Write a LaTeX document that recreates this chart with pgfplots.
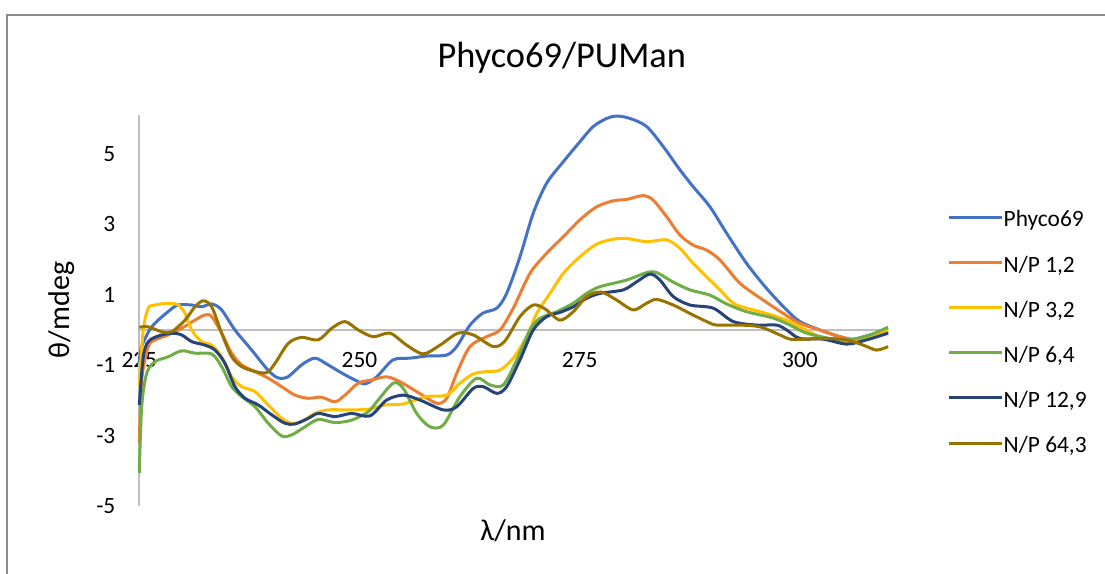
\documentclass[border=0pt]{standalone}
\usepackage{fontspec}
\setmainfont{Carlito}
\usepackage{pgfplots}
\pgfplotsset{compat=1.18}
\definecolor{cBlue}{HTML}{4472C4}
\definecolor{cOrange}{HTML}{ED7D31}
\definecolor{cYellow}{HTML}{FFC000}
\definecolor{cGreen}{HTML}{70AD47}
\definecolor{cDark}{HTML}{264478}
\definecolor{cBrown}{HTML}{997300}
\definecolor{cAxis}{HTML}{BFBFBF}
\definecolor{cFrame}{HTML}{8C8C8C}
\begin{document}
\begin{tikzpicture}
\path[use as bounding box] (0,0) rectangle (1105bp,574bp);
\draw[cFrame, line width=1.6bp] (7bp,0bp) -- (7bp,559bp) -- (1105bp,559bp);
\begin{axis}[
  at={(139.3bp,68bp)}, anchor=south west,
  scale only axis, width=748.8bp, height=390.7bp,
  xmin=225, xmax=310, ymin=-5, ymax=6.1,
  axis line style={draw=none},
  xtick={225,250,275,300}, xticklabels={225,250,275,300},
  ytick={-5,-3,-1,1,3,5}, yticklabels={-5,-3,-1,1,3,5},
  major tick length=0pt, tick style={draw=none},
  xticklabel style={anchor=base, yshift=138bp, font=\fontsize{23.4bp}{28bp}\selectfont},
  yticklabel style={anchor=east, inner sep=0pt, xshift=-23.8bp, font=\fontsize{23.4bp}{28bp}\selectfont},
  clip=false,
  every axis plot/.append style={line width=3bp, smooth, tension=0.5, no markers},
  legend cell align=left,
  legend style={at={(axis description cs:1.0787,0.7781)}, anchor=north west,
    draw=none, fill=none, inner sep=0pt, outer sep=0pt, row sep=0pt,
    font=\fontsize{23.4bp}{28bp}\selectfont,
    nodes={inner sep=0pt, outer sep=0pt, text height=25bp, text depth=20.1bp},
    /tikz/every even column/.append style={column sep=5.3bp}},
  legend image code/.code={\draw[#1, line width=3bp] (0bp,7bp) -- (53.7bp,7bp);},
]
\draw[cAxis, line width=1.8bp] (axis cs:225,-5) -- (axis cs:225,6.1);
\draw[cAxis, line width=1.8bp] (axis cs:225,0) -- (axis cs:310,0);

\addplot[cBlue] coordinates {
(225.0,-0.91) (225.27,-0.47) (226.41,0.09) (228.26,0.52) (229.39,0.71) (230.95,0.71)
(232.08,0.66) (233.22,0.74) (234.35,0.57) (235.86,0.00) (237.76,-0.57) (239.61,-1.14)
(240.74,-1.36) (241.88,-1.33) (243.43,-0.99) (244.94,-0.80) (246.42,-0.99) (247.97,-1.22)
(249.48,-1.42) (250.62,-1.53) (251.95,-1.33) (253.80,-0.85) (255.73,-0.80) (257.62,-0.74)
(259.89,-0.71) (261.03,-0.47) (262.54,0.14) (264.01,0.48) (265.57,0.62) (266.70,1.04)
(268.21,2.08) (269.72,3.32) (271.24,4.17) (273.13,4.78) (275.02,5.35) (276.53,5.78)
(278.05,6.01) (279.19,6.08) (280.70,6.01) (282.59,5.78) (284.48,5.21) (286.37,4.55)
(287.88,4.07) (289.78,3.50) (291.67,2.75) (293.94,1.89) (296.21,1.18) (298.48,0.57)
(299.99,0.24) (302.26,0.00) (304.53,-0.19) (306.04,-0.26) (308.31,-0.12) (310.0,-0.05)
};
\addlegendentry{Phyco69}
\addplot[cOrange] coordinates {
(225.0,-3.21) (225.27,-1.42) (226.02,-0.47) (226.78,-0.28) (228.29,-0.14) (229.81,0.05)
(231.32,0.28) (232.46,0.43) (233.22,0.38) (234.35,-0.09) (235.49,-0.66) (236.62,-0.99)
(238.13,-1.18) (239.64,-1.37) (241.16,-1.61) (242.67,-1.85) (244.18,-1.94) (245.70,-1.91)
(247.21,-2.04) (248.35,-1.85) (249.86,-1.51) (251.38,-1.42) (253.08,-1.33) (254.59,-1.47)
(256.49,-1.75) (258.76,-2.08) (259.89,-1.94) (261.03,-1.23) (262.54,-0.47) (264.43,-0.19)
(265.94,0.00) (267.45,0.62) (269.35,1.61) (271.24,2.18) (273.13,2.65) (275.02,3.13)
(276.92,3.50) (278.80,3.67) (280.32,3.71) (282.21,3.82) (283.34,3.69) (284.86,3.22)
(286.37,2.70) (287.88,2.41) (289.40,2.27) (290.91,1.99) (293.18,1.33) (295.83,0.85)
(298.10,0.47) (299.99,0.19) (302.26,0.00) (304.53,-0.19) (306.80,-0.28) (310.0,-0.05)
};
\addlegendentry{N/P 1,2}
\addplot[cYellow] coordinates {
(225.0,-1.56) (225.45,0.00) (226.02,0.62) (226.78,0.71) (228.29,0.76) (229.43,0.71)
(230.19,0.47) (230.95,0.00) (232.08,-0.33) (233.22,-0.43) (234.35,-0.76) (235.49,-1.33)
(236.62,-1.61) (238.13,-1.75) (239.64,-2.13) (241.16,-2.51) (242.30,-2.65) (243.43,-2.60)
(244.94,-2.37) (246.45,-2.27) (248.72,-2.27) (251.0,-2.25) (252.89,-2.13) (254.97,-2.10)
(257.62,-1.89) (259.89,-1.85) (261.40,-1.51) (262.91,-1.25) (264.43,-1.18) (265.94,-1.14)
(267.45,-0.80) (268.97,-0.19) (270.11,0.47) (271.62,1.04) (273.13,1.61) (275.02,2.08)
(276.92,2.44) (278.80,2.58) (280.32,2.60) (282.59,2.51) (284.86,2.56) (286.37,2.32)
(287.88,1.89) (289.40,1.51) (290.91,1.14) (292.42,0.76) (293.94,0.62) (296.21,0.47)
(298.48,0.28) (299.99,0.09) (302.26,-0.19) (304.53,-0.33) (306.80,-0.28) (310.0,0.00)
};
\addlegendentry{N/P 3,2}
\addplot[cGreen] coordinates {
(225.0,-4.06) (225.27,-2.18) (225.84,-1.23) (226.78,-0.90) (228.29,-0.76) (229.81,-0.59)
(231.32,-0.66) (233.22,-0.68) (234.35,-1.04) (235.49,-1.61) (236.62,-1.89) (238.13,-2.18)
(239.64,-2.65) (241.16,-3.01) (242.30,-2.98) (243.81,-2.75) (245.32,-2.54) (247.21,-2.63)
(249.11,-2.56) (251.0,-2.32) (251.95,-2.04) (253.83,-1.51) (254.97,-1.66) (256.49,-2.37)
(258.0,-2.75) (259.51,-2.70) (261.40,-1.89) (263.30,-1.37) (264.81,-1.56) (266.32,-1.56)
(267.84,-0.85) (269.35,0.00) (270.48,0.33) (272.38,0.52) (274.26,0.76) (275.78,1.04)
(277.29,1.23) (280.32,1.42) (282.59,1.63) (283.73,1.63) (285.61,1.36) (287.51,1.14)
(289.78,0.99) (291.67,0.74) (293.94,0.52) (296.96,0.34) (298.86,0.14) (300.76,-0.09)
(303.78,-0.26) (305.67,-0.28) (307.94,-0.14) (310.0,0.08)
};
\addlegendentry{N/P 6,4}
\addplot[cDark] coordinates {
(225.0,-2.13) (225.45,-0.76) (226.02,-0.33) (227.16,-0.17) (228.68,-0.09) (229.81,-0.14)
(230.95,-0.33) (232.46,-0.43) (233.59,-0.57) (234.73,-0.95) (235.86,-1.61) (237.0,-1.94)
(238.51,-2.13) (240.03,-2.41) (241.54,-2.65) (242.67,-2.67) (244.18,-2.51) (245.32,-2.37)
(247.21,-2.46) (249.11,-2.37) (251.19,-2.44) (253.08,-1.99) (254.97,-1.85) (256.86,-1.99)
(259.51,-2.27) (261.03,-2.18) (262.91,-1.66) (264.05,-1.61) (265.57,-1.80) (266.70,-1.61)
(268.21,-0.85) (269.72,0.00) (271.24,0.38) (272.75,0.50) (274.26,0.66) (275.78,0.90)
(277.29,1.04) (279.94,1.14) (281.46,1.37) (282.97,1.59) (284.10,1.42) (285.61,0.95)
(287.51,0.71) (290.15,0.62) (292.42,0.24) (295.08,0.14) (297.35,0.14) (298.49,0.00)
(299.99,-0.24) (302.64,-0.26) (305.30,-0.40) (307.57,-0.28) (310.0,-0.09)
};
\addlegendentry{N/P 12,9}
\addplot[cBrown] coordinates {
(225.0,0.08) (226.02,0.09) (227.54,-0.05) (228.68,-0.05) (230.19,0.28) (231.32,0.66)
(232.26,0.83) (233.22,0.66) (234.35,-0.09) (235.49,-0.76) (236.62,-1.04) (238.13,-1.18)
(239.46,-1.21) (240.40,-0.95) (241.91,-0.38) (243.43,-0.21) (245.32,-0.28) (246.84,0.05)
(248.35,0.24) (249.86,0.00) (251.56,-0.19) (253.46,-0.09) (255.35,-0.43) (257.24,-0.68)
(259.13,-0.43) (261.18,-0.09) (262.91,-0.14) (265.18,-0.47) (266.51,-0.31) (268.21,0.38)
(269.72,0.71) (271.05,0.60) (272.75,0.28) (274.26,0.52) (275.78,0.95) (277.41,1.08)
(279.19,0.85) (281.07,0.57) (282.59,0.76) (283.73,0.87) (285.61,0.71) (287.51,0.47)
(289.40,0.24) (290.54,0.14) (293.18,0.14) (295.45,0.09) (297.72,-0.14) (298.86,-0.26)
(300.76,-0.26) (303.03,-0.24) (305.30,-0.28) (307.18,-0.43) (308.70,-0.57) (310.0,-0.47)
};
\addlegendentry{N/P 64,3}
\end{axis}
\node[anchor=base, font=\fontsize{36.4bp}{42bp}\selectfont] at (561.7bp,506.7bp) {Phyco69/PUMan};
\node[anchor=base, font=\fontsize{30bp}{36bp}\selectfont] at (513bp,34bp) {λ/nm};
\node[rotate=90, anchor=center, font=\fontsize{30bp}{36bp}\selectfont] at (62bp,264bp) {θ/mdeg};
\end{tikzpicture}
\end{document}
